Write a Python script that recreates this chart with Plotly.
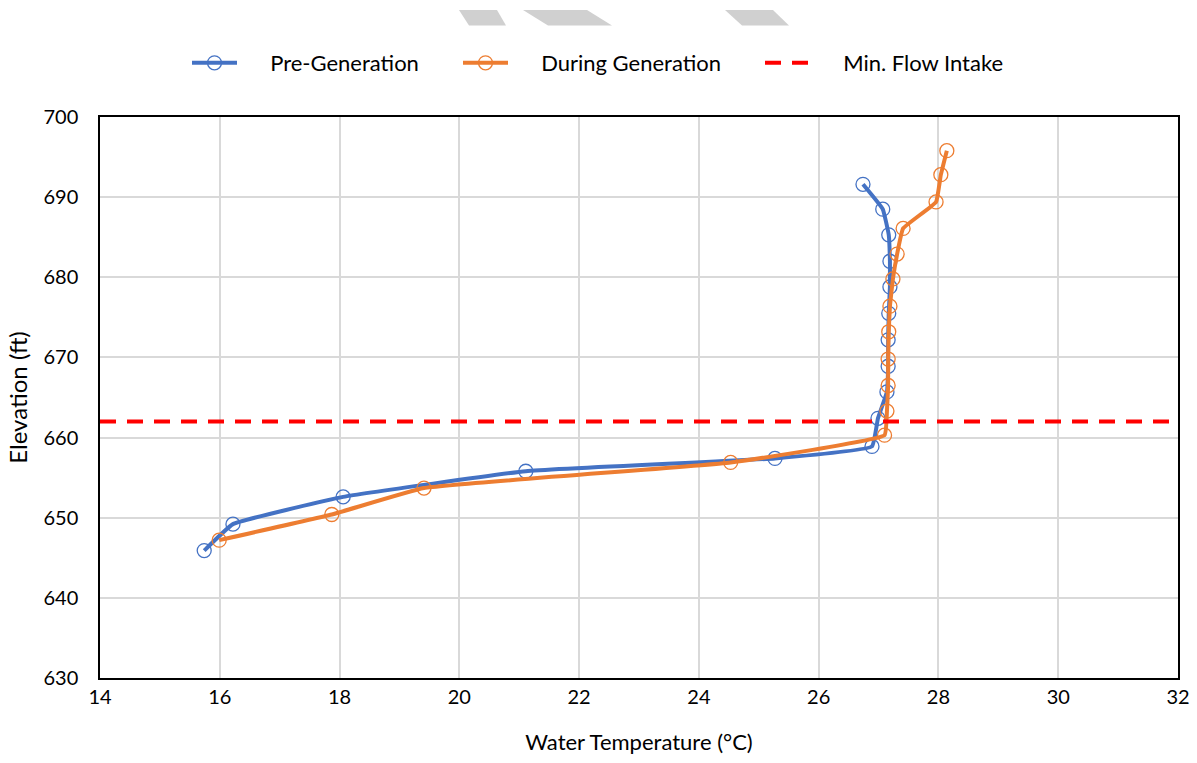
import plotly.graph_objects as go

# Temperature profiles (water temperature in °C vs. elevation in ft)
pre_temp = [26.74, 27.07, 27.17, 27.19, 27.19, 27.17, 27.16, 27.16, 27.14, 26.99,
            26.89, 25.27, 21.11, 18.06, 16.22, 15.74]
pre_elev = [691.6, 688.5, 685.3, 682.0, 678.8, 675.5, 672.2, 668.9, 665.7, 662.4,
            658.9, 657.4, 655.8, 652.6, 649.2, 645.9]

dur_temp = [28.14, 28.04, 27.96, 27.41, 27.31, 27.24, 27.19, 27.17, 27.16, 27.16,
            27.14, 27.10, 24.53, 19.41, 17.87, 15.99]
dur_elev = [695.8, 692.8, 689.4, 686.1, 682.9, 679.8, 676.4, 673.2, 669.8, 666.5,
            663.3, 660.3, 656.9, 653.7, 650.4, 647.2]

intake_elev = 662
x_range = [14, 32]
y_range = [630, 700]

BLUE = "#4472C4"
ORANGE = "#ED7D31"
RED = "#FF0000"
FONT = "Lato"
PAD = "\u00a0" * 5

W, H = 1197, 763
L, R, T, B = 100, 19, 117, 85
pw, ph = W - L - R, H - T - B

fig = go.Figure()

fig.add_trace(go.Scatter(
    x=pre_temp, y=pre_elev, name=PAD + "Pre-Generation", mode="lines+markers",
    legend="legend",
    line=dict(color=BLUE, width=4, shape="spline", smoothing=0.3),
    marker=dict(symbol="circle-open", size=14, color=BLUE, line=dict(width=1.3)),
))
fig.add_trace(go.Scatter(
    x=dur_temp, y=dur_elev, name=PAD + "During Generation", mode="lines+markers",
    legend="legend2",
    line=dict(color=ORANGE, width=4, shape="spline", smoothing=0.3),
    marker=dict(symbol="circle-open", size=14, color=ORANGE, line=dict(width=1.3)),
))
fig.add_trace(go.Scatter(
    x=x_range, y=[intake_elev, intake_elev], name=PAD + "Min. Flow Intake", mode="lines",
    legend="legend3",
    line=dict(color=RED, width=4, dash="16px,11px"),
))


def px(xp):
    return (xp - L) / pw


def py(yp):
    return (H - B - yp) / ph


# Grey banner fragments across the top edge of the page
banner = [
    [(459, 10), (497, 10), (506, 25.6), (469, 25.6)],
    [(523, 10), (587, 10), (612, 25.6), (548, 25.6)],
    [(725, 10), (773, 10), (789, 25.6), (742, 25.6)],
]
shapes = []
for poly in banner:
    path = "M " + " L ".join(f"{px(a):.5f},{py(b):.5f}" for a, b in poly) + " Z"
    shapes.append(dict(type="path", xref="paper", yref="paper", path=path,
                       fillcolor="#d0d0d0", line=dict(width=0), layer="above"))


def legend_at(xpix):
    return dict(orientation="h", x=px(xpix), xanchor="left", y=py(63),
                yanchor="middle", font=dict(size=22, family=FONT, color="#000000"),
                itemwidth=45, bgcolor="rgba(0,0,0,0)")


fig.update_layout(
    width=W, height=H,
    margin=dict(l=L, r=R, t=T, b=B, autoexpand=False),
    paper_bgcolor="white", plot_bgcolor="white",
    font=dict(family=FONT, color="#000000"),
    showlegend=True,
    legend=legend_at(187),
    legend2=legend_at(458),
    legend3=legend_at(760),
    shapes=shapes,
    xaxis=dict(range=x_range, dtick=2, tick0=14, automargin=False,
               showgrid=True, gridcolor="#d9d9d9", gridwidth=1.5,
               showline=True, linecolor="black", linewidth=1.5, mirror=True,
               zeroline=False, ticks="", tickfont=dict(size=20, family=FONT),
               title=dict(text="Water Temperature (°C)", font=dict(size=22, family=FONT),
                          standoff=28)),
    yaxis=dict(range=y_range, dtick=10, tick0=630, automargin=False,
               showgrid=True, gridcolor="#d9d9d9", gridwidth=1.5,
               showline=True, linecolor="black", linewidth=1.5, mirror=True,
               zeroline=False, ticks="", ticklabelstandoff=16,
               tickfont=dict(size=20, family=FONT),
               title=dict(text="Elevation (ft)", font=dict(size=24, family=FONT),
                          standoff=9)),
)

fig.write_html("out.html")
